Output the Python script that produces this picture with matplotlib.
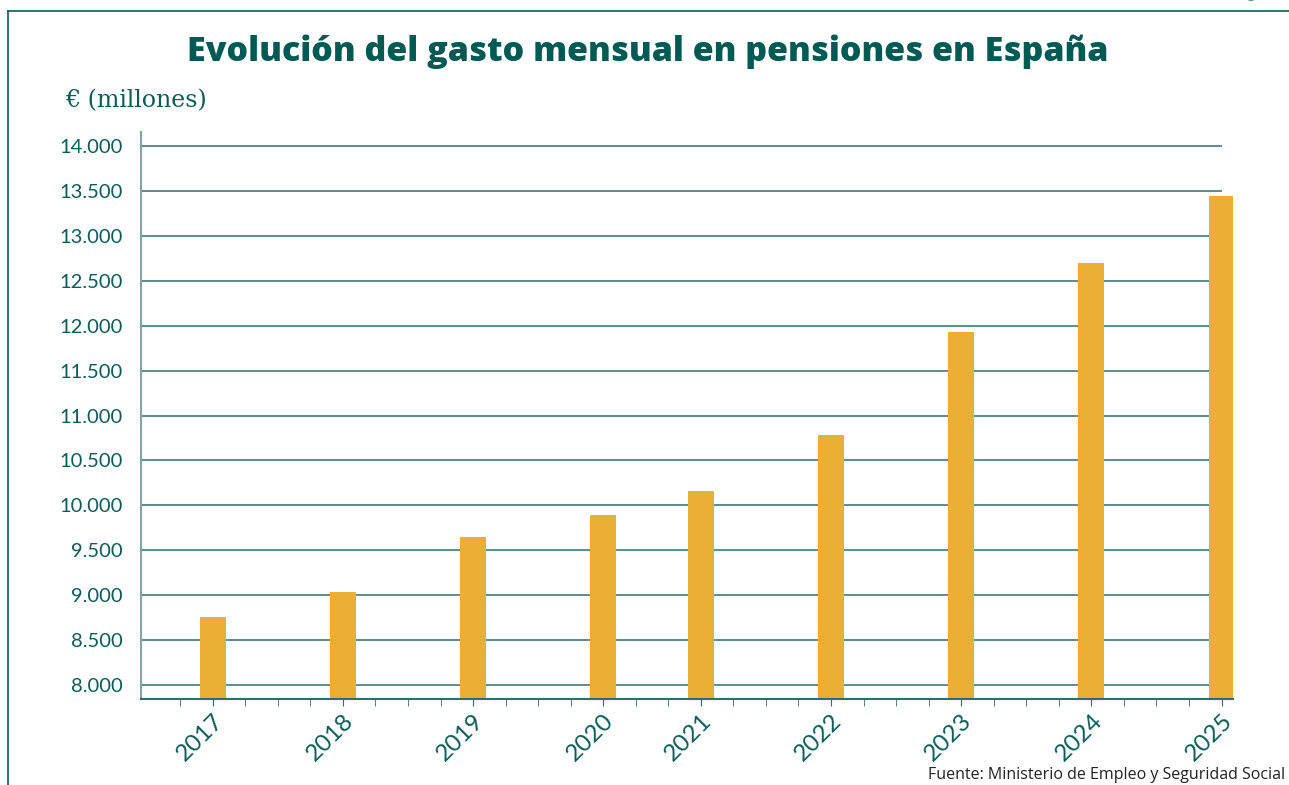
import matplotlib.pyplot as plt
from matplotlib.ticker import FuncFormatter, FixedLocator
import matplotlib.patches as mpatches

# Data
years = ['2017', '2018', '2019', '2020', '2021', '2022', '2023', '2024', '2025']
slots = [0, 4, 8, 12, 15, 19, 23, 27, 31]   # position on the quarterly axis
gasto = [8757, 9035, 9648, 9892, 10160, 10783, 11930, 12698, 13444]
yticks = [8000, 8500, 9000, 9500, 10000, 10500, 11000, 11500, 12000, 12500, 13000, 13500, 14000]

TEAL = '#0b5c56'
GRID = '#2f6f69'
BAR = '#ecaf36'


def miles(v, pos):
    return '{:,.0f}'.format(v).replace(',', '.')


def main():
    fig = plt.figure(figsize=(12.89, 7.85), dpi=100)
    ax = fig.add_axes([0.1095, 0.1096, 0.847, 0.7222])

    # horizontal grid, stops at the last slot
    ax.hlines(yticks, -2.2, 31, colors=GRID, linewidth=1.1, zorder=1)
    ax.bar(slots, gasto, width=0.8, color=BAR, zorder=2)

    ax.set_xlim(-2.2, 31.35)
    ax.set_ylim(7845, 14155)

    ax.set_yticks(yticks)
    ax.yaxis.set_major_formatter(FuncFormatter(miles))
    ax.tick_params(axis='y', length=0, pad=13, labelsize=14.5, labelcolor=TEAL)
    for lab in ax.get_yticklabels():
        lab.set_fontfamily('Lato')

    ax.set_xticks(slots)
    ax.set_xticklabels(years, rotation=45, ha='right', rotation_mode='anchor',
                       fontsize=17.5, color=TEAL, fontfamily='Lato')
    ax.xaxis.set_minor_locator(FixedLocator(range(-1, 32)))
    ax.tick_params(axis='x', which='both', length=5, color=GRID, pad=3)

    for s in ['top', 'right']:
        ax.spines[s].set_visible(False)
    ax.spines['left'].set_color('#7fa7a3')
    ax.spines['left'].set_linewidth(1.5)
    ax.spines['bottom'].set_color(GRID)
    ax.spines['bottom'].set_linewidth(1.5)

    fig.text(0.5025, 0.934, 'Evolución del gasto mensual en pensiones en España',
             ha='center', va='center', fontsize=24.5, fontweight='heavy',
             color='#005a54', fontfamily='Open Sans')
    fig.text(0.0505, 0.872, '€ (millones)', ha='left', va='center',
             fontsize=17, color=TEAL, fontfamily='DejaVu Serif')
    fig.text(0.997, 0.003, 'Fuente: Ministerio de Empleo y Seguridad Social',
             ha='right', va='bottom', fontsize=11.5, color='#222222',
             fontfamily='Open Sans')

    # frame lines at left and top, plus logo edge
    fig.add_artist(plt.Line2D([0.0065, 0.0065], [0, 0.986], color=TEAL,
                              linewidth=1.2, transform=fig.transFigure))
    fig.add_artist(plt.Line2D([0.0065, 1], [0.986, 0.986], color=TEAL,
                              linewidth=1.2, transform=fig.transFigure))
    fig.add_artist(mpatches.Ellipse((0.9705, 1.03), 0.022, 0.06, color=TEAL,
                                    transform=fig.transFigure))

    fig.savefig('out.png', dpi=100)


if __name__ == '__main__':
    main()
